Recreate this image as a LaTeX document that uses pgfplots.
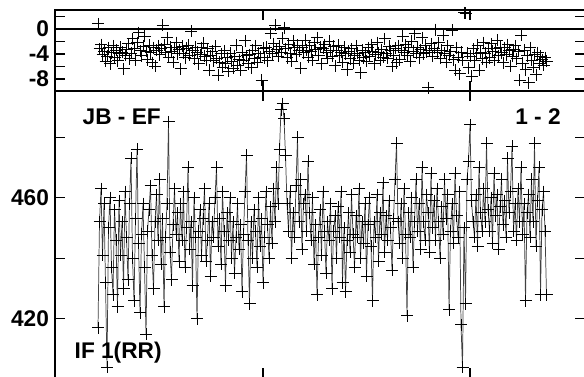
\documentclass[border=0pt]{standalone}
\usepackage{pgfplots}
\pgfplotsset{compat=1.18}
\usepackage{fontspec}
\setmainfont{Liberation Sans}
\newcommand{\lblfont}{\fontsize{17}{20}\selectfont\bfseries}
\begin{document}
\begin{tikzpicture}
\pgfplotsset{
  panel/.style={
    scale only axis, anchor=north west, width=397.5pt,
    xmin=55, xmax=585, xtick={263,470}, xticklabels={,},
    xtick pos=both, ytick pos=both, yticklabel pos=left,
    tick align=inside, major tick length=7.5pt,
    axis line style={line width=0.8pt}, tick style={line width=0.8pt, black},
    ticklabel style={font=\lblfont},
    yticklabel style={xshift=-1pt},
    clip=true,
  }
}
% phase panel
\begin{axis}[panel, at={(41.25pt,-7.5pt)}, height=60.75pt,
  ymin=-9.92, ymax=3.04, ytick={-8,-6,-4,-2,0,2}, yticklabels={-8,,-4,,0,}]
\draw[line width=0.8pt] (axis cs:55,0) -- (axis cs:585,0);
\addplot[only marks, mark=+, mark size=4.5pt, mark options={line width=0.75pt, black}] coordinates {
(98,0.8)(99.5,-3.2)(101,-2.5)(102.5,-4.1)(104,-3.6)(105.5,-5.2)(107,-4.4)(108.5,-3.0)(110,-5.6)(111.5,-3.8)
(113,-2.7)(114.5,-4.6)(116,-3.4)(117.5,-5.1)(119,-4.0)(120.5,-2.9)(122,-3.7)(123.5,-6.4)(125,-4.2)(126.5,-3.3)
(128,-2.4)(129.5,-4.8)(131,-3.9)(132.5,-1.6)(134,-3.1)(135.5,-5.0)(137,-2.2)(138.5,-0.6)(140,-3.5)(141.5,-4.3)
(143,-2.8)(144.5,-1.2)(146,-3.6)(147.5,-4.9)(149,-2.6)(150.5,-3.8)(152,-5.4)(153.5,-3.0)(155,-6.0)(156.5,-3.4)
(158,-2.7)(159.5,-4.1)(161,-3.2)(162.5,0.6)(164,-2.5)(165.5,-3.7)(167,-1.4)(168.5,-4.5)(170,-2.9)(171.5,-3.6)
(173,-5.3)(174.5,-3.0)(176,-2.2)(177.5,-4.0)(179,-3.3)(180.5,-6.4)(182,-2.8)(183.5,-3.9)(185,-4.6)(186.5,-3.1)
(188,-2.6)(189.5,-4.2)(191,-0.4)(192.5,-3.5)(194,-4.8)(195.5,-2.9)(197,-3.7)(198.5,-5.6)(200,-4.1)(201.5,-3.0)
(203,-2.3)(204.5,-4.4)(206,-5.0)(207.5,-3.2)(209,-6.6)(210.5,-4.3)(212,-3.6)(213.5,-5.1)(215,-2.8)(216.5,-4.7)
(218,-7.4)(219.5,-5.3)(221,-4.0)(222.5,-6.1)(224,-3.5)(225.5,-5.5)(227,-4.6)(228.5,-6.8)(230,-3.9)(231.5,-5.2)
(233,-6.3)(234.5,-4.4)(236,-2.6)(237.5,-5.8)(239,-4.9)(240.5,-6.6)(242,-3.7)(243.5,-5.0)(245,-1.9)(246.5,-4.3)
(248,-5.6)(249.5,-4.1)(251,-6.2)(252.5,-3.4)(254,-4.8)(255.5,-2.7)(257,-5.3)(258.5,-3.9)(260,-4.5)(261.5,-8.2)
(263,-3.1)(264.5,-4.6)(266,-2.9)(267.5,-5.1)(269,-3.6)(270.5,-0.7)(272,-4.0)(273.5,-2.4)(275,0.6)(276.5,-3.3)
(278,-4.4)(279.5,-2.8)(281,-3.7)(282.5,-1.5)(284,0.2)(285.5,-3.2)(287,-4.6)(288.5,-2.5)(290,-3.9)(291.5,-5.2)
(293,-1.9)(294.5,-3.0)(296,-4.1)(297.5,-2.6)(299,-3.5)(300.5,-6.3)(302,-2.9)(303.5,-3.8)(305,-1.8)(306.5,-3.4)
(308,-4.5)(309.5,-2.7)(311,-3.6)(312.5,-5.0)(314,-2.2)(315.5,-3.3)(317,-1.4)(318.5,-4.2)(320,-2.9)(321.5,-5.6)
(323,-3.1)(324.5,-2.5)(326,-3.8)(327.5,-4.7)(329,-2.0)(330.5,-3.4)(332,-4.4)(333.5,-2.8)(335,-5.9)(336.5,-3.5)
(338,-2.6)(339.5,-4.3)(341,-3.7)(342.5,-5.3)(344,-2.9)(345.5,-4.0)(347,-6.5)(348.5,-3.6)(350,-4.8)(351.5,-3.2)
(353,-5.5)(354.5,-4.2)(356,-2.7)(357.5,-3.9)(359,-5.0)(360.5,-7.0)(362,-3.4)(363.5,-4.6)(365,-3.8)(366.5,-5.2)
(368,-3.0)(369.5,-4.4)(371,-2.5)(372.5,-3.6)(374,-5.6)(375.5,-4.1)(377,-2.2)(378.5,-3.8)(380,-5.0)(381.5,-3.3)
(383,-4.5)(384.5,-1.6)(386,-3.9)(387.5,-4.7)(389,-2.8)(390.5,-3.5)(392,-6.0)(393.5,-4.2)(395,-3.1)(396.5,-5.4)
(398,-2.7)(399.5,-4.9)(401,-3.4)(402.5,-1.2)(404,-3.8)(405.5,-2.5)(407,-4.3)(408.5,-3.0)(410,-5.2)(411.5,-2.0)
(413,-3.6)(414.5,-0.8)(416,-3.9)(417.5,-2.9)(419,-4.6)(420.5,-3.3)(422,-1.4)(423.5,-4.0)(425,-2.6)(426.5,-3.7)
(428,-9.4)(429.5,-3.5)(431,-2.4)(432.5,-4.4)(434,-3.1)(435.5,-0.1)(437,-3.8)(438.5,-2.2)(440,-4.7)(441.5,-3.4)
(443,-1.0)(444.5,-3.9)(446,-5.3)(447.5,-2.7)(449,-4.2)(450.5,-3.6)(452,-0.2)(453.5,-4.9)(455,-6.6)(456.5,-3.0)
(458,-4.5)(459.5,-7.2)(461,-3.7)(462.5,-5.0)(464,2.6)(465.5,2.5)(467,-3.9)(468.5,-6.2)(470,-4.4)(471.5,-7.6)
(473,-3.2)(474.5,-5.1)(476,-4.0)(477.5,-2.6)(479,-6.6)(480.5,-3.7)(482,-4.8)(483.5,-2.2)(485,-3.9)(486.5,-5.3)
(488,-3.1)(489.5,-4.6)(491,-2.4)(492.5,-3.6)(494,-5.0)(495.5,-3.2)(497,-1.8)(498.5,-4.3)(500,-2.9)(501.5,-3.8)
(503,-5.4)(504.5,-3.0)(506,-4.1)(507.5,-2.5)(509,-3.5)(510.5,-6.0)(512,-4.4)(513.5,-3.3)(515,-2.7)(516.5,-4.8)
(518,-3.6)(519.5,-8.2)(521,-1.0)(522.5,-5.5)(524,-3.4)(525.5,-6.5)(527,-4.3)(528.5,-8.6)(530,-3.0)(531.5,-5.0)
(533,-6.1)(534.5,-4.1)(536,-7.3)(537.5,-3.8)(539,-5.6)(540.5,-4.4)(542,-4.9)(543.5,-5.8)(545,-4.6)(546.5,-5.2)
};
\end{axis}
% amplitude panel
\begin{axis}[panel, at={(41.25pt,-68.25pt)}, height=215.25pt,
  ymin=400.5, ymax=495.2, ytick={420,440,460,480}, yticklabels={420,,460,}]
\addplot[color=black!75, line width=0.55pt, mark=+, mark size=4.5pt, mark options={line width=0.75pt, black}] coordinates {
(98,417)(99.5,452)(101,463)(102.5,441)(104,458)(105.5,432)(107,404)(108.5,450)(110,460)(111.5,437)
(113,428)(114.5,456)(116,446)(117.5,424)(119,459)(120.5,441)(122,452)(123.5,430)(125,462)(126.5,447)
(128,433)(129.5,458)(131,473)(132.5,440)(134,426)(135.5,453)(137,476)(138.5,445)(140,422)(141.5,448)
(143,458)(144.5,437)(146,415)(147.5,449)(149,456)(150.5,464)(152,441)(153.5,430)(155,452)(156.5,461)
(158,446)(159.5,466)(161,438)(162.5,453)(164,424)(165.5,447)(167,458)(168.5,485)(170,442)(171.5,433)
(173,451)(174.5,463)(176,448)(177.5,455)(179,439)(180.5,458)(182,446)(183.5,462)(185,437)(186.5,450)
(188,470)(189.5,443)(191,452)(192.5,431)(194,460)(195.5,447)(197,420)(198.5,449)(200,456)(201.5,441)
(203,453)(204.5,463)(206,439)(207.5,446)(209,458)(210.5,434)(212,452)(213.5,447)(215,460)(216.5,470)
(218,444)(219.5,453)(221,438)(222.5,462)(224,449)(225.5,431)(227,455)(228.5,446)(230,460)(231.5,440)
(233,452)(234.5,435)(236,447)(237.5,458)(239,443)(240.5,451)(242,429)(243.5,448)(245,462)(246.5,474)
(248,446)(249.5,425)(251,452)(252.5,440)(254,456)(255.5,449)(257,437)(258.5,460)(260,444)(261.5,453)
(263,432)(264.5,447)(266,462)(267.5,451)(269,440)(270.5,457)(272,445)(273.5,463)(275,452)(276.5,470)
(278,458)(279.5,476)(281,489)(282.5,491)(284,486)(285.5,474)(287,458)(288.5,449)(290,462)(291.5,440)
(293,455)(294.5,447)(296,464)(297.5,480)(299,452)(300.5,466)(302,443)(303.5,458)(305,461)(306.5,449)
(308,472)(309.5,455)(311,446)(312.5,460)(314,438)(315.5,451)(317,428)(318.5,447)(320,456)(321.5,441)
(323,462)(324.5,449)(326,435)(327.5,452)(329,446)(330.5,458)(332,430)(333.5,449)(335,454)(336.5,440)
(338,457)(339.5,447)(341,462)(342.5,432)(344,450)(345.5,429)(347,446)(348.5,455)(350,442)(351.5,461)
(353,448)(354.5,437)(356,454)(357.5,447)(359,463)(360.5,440)(362,452)(363.5,445)(365,458)(366.5,434)
(368,451)(369.5,460)(371,444)(372.5,426)(374,452)(375.5,447)(377,461)(378.5,439)(380,455)(381.5,448)
(383,465)(384.5,442)(386,454)(387.5,446)(389,459)(390.5,450)(392,436)(393.5,453)(395,466)(396.5,478)
(398,452)(399.5,445)(401,458)(402.5,440)(404,463)(405.5,448)(407,421)(408.5,455)(410,447)(411.5,460)
(413,437)(414.5,452)(416,466)(417.5,449)(419,458)(420.5,443)(422,470)(423.5,452)(425,446)(426.5,461)
(428,455)(429.5,442)(431,468)(432.5,450)(434,459)(435.5,446)(437,463)(438.5,452)(440,440)(441.5,457)
(443,448)(444.5,466)(446,453)(447.5,461)(449,423)(450.5,449)(452,458)(453.5,445)(455,468)(456.5,454)
(458,447)(459.5,462)(461,418)(462.5,404)(464,450)(465.5,425)(467,466)(468.5,472)(470,484)(471.5,459)
(473,452)(474.5,447)(476,461)(477.5,444)(479,470)(480.5,455)(482,449)(483.5,463)(485,452)(486.5,478)
(488,456)(489.5,449)(491,460)(492.5,445)(494,468)(495.5,454)(497,461)(498.5,443)(500,457)(501.5,466)
(503,451)(504.5,459)(506,447)(507.5,473)(509,455)(510.5,462)(512,477)(513.5,449)(515,458)(516.5,446)
(518,463)(519.5,452)(521,470)(522.5,448)(524,458)(525.5,426)(527,455)(528.5,461)(530,447)(531.5,466)
(533,452)(534.5,478)(536,444)(537.5,459)(539,470)(540.5,428)(542,456)(543.5,462)(545,449)(546.5,428)
};
\end{axis}
\node[anchor=base west, font=\lblfont] at (58.5pt,-93.75pt) {JB - EF};
\node[anchor=base east, font=\lblfont] at (424pt,-93.75pt) {1 - 2};
\node[anchor=base west, font=\lblfont] at (52.5pt,-268.5pt) {IF 1(RR)};
\node[anchor=base west, font=\lblfont, inner sep=0pt] at (62pt,6.5pt) {Top: phase (deg), bottom: amplitude (mJy)};
\pgfresetboundingbox
\path[use as bounding box] (0pt,0pt) rectangle (438pt,-282.75pt);
\end{tikzpicture}
\end{document}
